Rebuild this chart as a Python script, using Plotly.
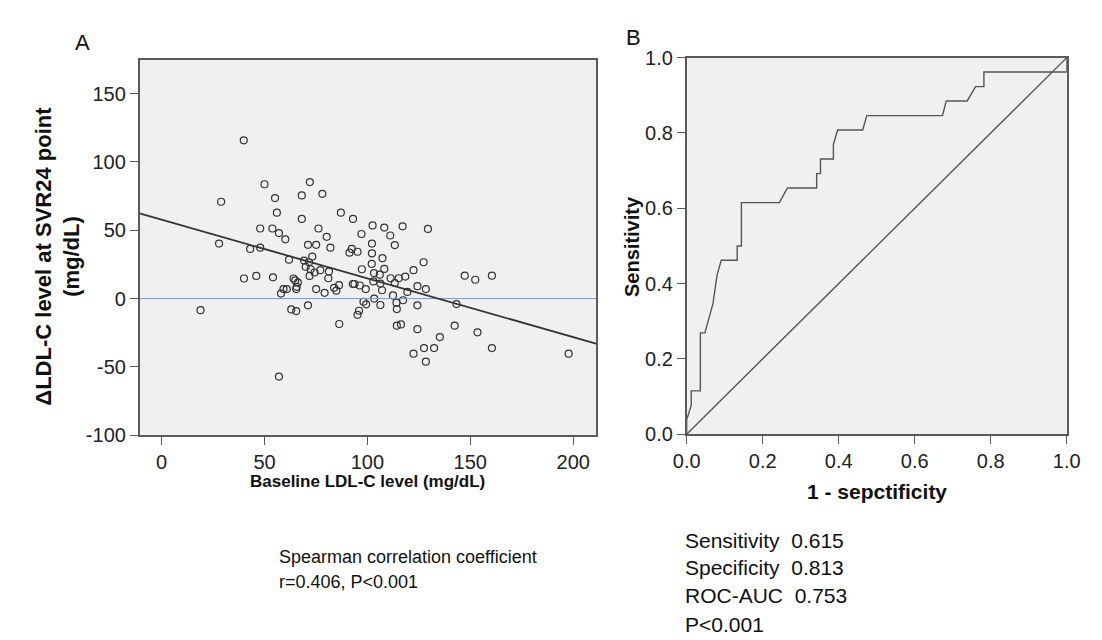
import plotly.graph_objects as go

# ---------------- Data ----------------
# Panel A: scatter (baseline LDL-C vs delta LDL-C)
baseline_ldl = [39.9, 50.0, 72.0, 55.1, 68.1, 78.1, 28.9, 56.0, 87.1, 68.1, 93.0, 47.9, 53.8, 57.0,
                76.2, 60.1, 80.2, 97.1, 27.9, 71.1, 75.1, 82.0, 43.0, 47.9, 92.4, 91.3, 95.2, 61.9,
                69.2, 73.2, 71.6, 70.0, 72.4, 74.3, 77.1, 81.3, 71.9, 81.0, 97.3, 40.0, 46.0, 54.1,
                64.1, 64.9, 66.2, 59.2, 60.8, 58.0, 65.4, 75.1, 79.2, 83.8, 86.2, 84.9, 92.9, 93.7,
                96.3, 99.2, 98.1, 99.4, 71.1, 63.0, 65.4, 18.9, 86.3, 57.0, 95.2, 95.9, 65.6,
                102.5, 108.2, 117.1, 129.4, 111.1, 102.2, 113.3, 102.2, 107.3, 102.1, 108.2, 127.3,
                122.4, 103.2, 106.0, 111.3, 115.2, 118.4, 113.3, 102.9, 106.3, 107.1, 119.4, 124.3,
                128.4, 103.3, 112.4, 117.3, 114.1, 106.3, 114.3, 124.3, 143.3, 114.3, 116.3, 124.3,
                142.4, 153.5, 135.2, 127.5, 132.4, 122.4, 128.4, 160.5, 197.8, 147.3, 152.4, 160.5]
delta_ldl = [115.9, 83.7, 85.3, 73.6, 75.5, 76.7, 70.9, 62.9, 62.9, 58.3, 58.3, 51.3, 51.3, 48.0,
             51.3, 43.4, 45.2, 47.3, 40.3, 39.4, 39.4, 37.3, 36.4, 37.3, 36.4, 33.6, 34.3, 28.5,
             27.8, 30.8, 26.6, 23.3, 21.5, 19.1, 20.8, 19.8, 16.6, 14.9, 21.5, 14.7, 16.6, 15.6,
             14.7, 13.3, 11.7, 7.0, 7.0, 3.7, 7.0, 7.0, 4.2, 7.9, 9.8, 5.8, 10.7, 10.7,
             9.6, 7.0, -2.3, -4.2, -4.9, -7.9, -9.1, -8.5, -18.6, -57.1, -11.9, -8.9, 8.6,
             53.6, 52.0, 52.9, 51.0, 46.2, 40.3, 39.2, 33.1, 29.6, 25.4, 21.7, 26.6,
             20.8, 18.7, 17.5, 14.9, 14.9, 16.1, 11.4, 12.6, 11.0, 6.1, 4.9, 9.1,
             7.0, 0.0, 2.3, -1.2, -3.0, -4.7, -7.7, -4.9, -4.0, -19.8, -18.9, -22.4,
             -19.8, -24.7, -28.2, -36.2, -36.2, -40.3, -46.2, -36.2, -40.3, 16.8, 13.8, 16.8]

# regression line of panel A
fit_intercept = 57.8
fit_slope = -0.43

# Panel B: ROC curve
roc_fpr = [0.0, 0.0, 0.012, 0.012, 0.036, 0.036, 0.048, 0.069, 0.080, 0.091, 0.133, 0.133, 0.144,
           0.144, 0.244, 0.265, 0.342, 0.342, 0.352, 0.352, 0.386, 0.386, 0.397, 0.463, 0.474,
           0.673, 0.683, 0.738, 0.760, 0.782, 0.782, 1.0, 1.0]
roc_tpr = [0.0, 0.038, 0.077, 0.115, 0.115, 0.269, 0.269, 0.346, 0.423, 0.462, 0.462, 0.5, 0.5,
           0.615, 0.615, 0.654, 0.654, 0.692, 0.692, 0.731, 0.731, 0.769, 0.808, 0.808, 0.846,
           0.846, 0.885, 0.885, 0.923, 0.923, 0.962, 0.962, 1.0]
ref_line = [0.0, 1.0]

a_xticks = [0, 50, 100, 150, 200]
a_yticks = [-100, -50, 0, 50, 100, 150]
a_yticklabels = ["-100", "-50", "0", "50", "100", "150"]
b_ticks = [0.0, 0.2, 0.4, 0.6, 0.8, 1.0]
b_ticklabels = ["0.0", "0.2", "0.4", "0.6", "0.8", "1.0"]

# ---------------- Figure ----------------
W, H = 1102, 640
FONT = "Liberation Sans, Arial, sans-serif"
AX = "#5a5a5a"
A_XRANGE = [-10.7, 211.1]
A_YRANGE = [-100, 175]

fig = go.Figure()

fig.add_trace(go.Scatter(
    x=baseline_ldl, y=delta_ldl, mode="markers",
    marker=dict(symbol="circle-open", size=7, color="#333333", line=dict(width=1.2)),
    xaxis="x", yaxis="y", hoverinfo="skip", showlegend=False))

fig.add_trace(go.Scatter(
    x=A_XRANGE, y=[0, 0], mode="lines", line=dict(color="#7b97cf", width=1),
    xaxis="x", yaxis="y", hoverinfo="skip", showlegend=False))

fig.add_trace(go.Scatter(
    x=A_XRANGE, y=[fit_intercept + fit_slope * v for v in A_XRANGE], mode="lines",
    line=dict(color="#333333", width=1.8),
    xaxis="x", yaxis="y", hoverinfo="skip", showlegend=False))

fig.add_trace(go.Scatter(
    x=roc_fpr, y=roc_tpr, mode="lines", line=dict(color="#555555", width=1.4),
    xaxis="x2", yaxis="y2", hoverinfo="skip", showlegend=False))

fig.add_trace(go.Scatter(
    x=ref_line, y=ref_line, mode="lines", line=dict(color="#555555", width=1.4),
    xaxis="x2", yaxis="y2", hoverinfo="skip", showlegend=False))


def axis_common(size):
    return dict(showgrid=False, zeroline=False, showline=True, mirror=True,
                linecolor=AX, linewidth=1.5, ticks="outside", ticklen=8,
                tickcolor=AX, tickwidth=1.2, tickfont=dict(family=FONT, size=size, color="#222"))


fig.update_layout(
    width=W, height=H,
    margin=dict(l=0, r=0, t=0, b=0),
    paper_bgcolor="white",
    plot_bgcolor="#f0f0f0",
    font=dict(family=FONT, color="#111"),
    xaxis=dict(domain=[120.7 / W, 589 / W], range=A_XRANGE, tickvals=a_xticks,
               anchor="y", **axis_common(20)),
    yaxis=dict(domain=[1 - 431 / H, 1 - 42 / H], range=A_YRANGE, tickvals=a_yticks,
               ticktext=a_yticklabels, anchor="x", **axis_common(20)),
    xaxis2=dict(domain=[682 / W, 1072 / W], range=[0, 1], tickvals=b_ticks,
                ticktext=b_ticklabels, anchor="y2", **axis_common(20)),
    yaxis2=dict(domain=[1 - 430 / H, 1 - 40 / H], range=[0, 1], tickvals=b_ticks,
                ticktext=b_ticklabels, anchor="x2", **axis_common(20)),
)


def ann(text, px, py, size, bold=False, angle=0, xanchor="center", yanchor="middle"):
    fig.add_annotation(
        text=f"<b>{text}</b>" if bold else text,
        x=px / W, y=1 - py / H, xref="paper", yref="paper",
        showarrow=False, textangle=angle, xanchor=xanchor, yanchor=yanchor,
        font=dict(family=FONT, size=size, color="#111"))


ann("A", 62, 24, 22)
ann("B", 627, 19, 22)
ann("ΔLDL-C level at SVR24 point<br>(mg/dL)", 36, 246, 22, bold=True, angle=-90)
ann("Baseline LDL-C level (mg/dL)", 354, 479, 17, bold=True)
ann("Sensitivity", 626, 236, 20, bold=True, angle=-90)
ann("1 - sepctificity", 877, 489, 21, bold=True)
ann("Spearman correlation coefficient", 262, 557, 18, xanchor="left")
ann("r=0.406, P<0.001", 262, 583, 18, xanchor="left")
ann("Sensitivity  0.615", 678, 540, 21, xanchor="left")
ann("Specificity  0.813", 678, 568, 21, xanchor="left")
ann("ROC-AUC  0.753", 678, 597, 21, xanchor="left")
ann("P<0.001", 678, 627, 21, xanchor="left")

fig.write_html("out.html")
